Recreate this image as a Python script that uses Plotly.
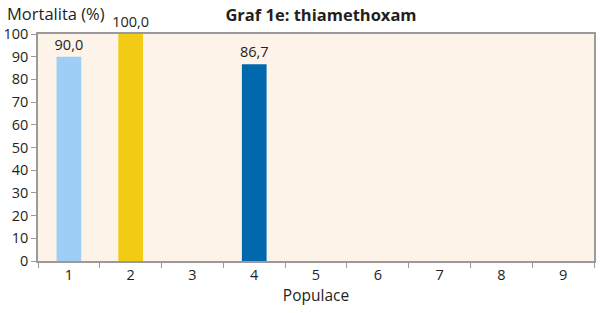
import plotly.graph_objects as go

categories = ["1", "2", "3", "4", "5", "6", "7", "8", "9"]
values = [90.0, 100.0, None, 86.7, None, None, None, None, None]
colors = ["#9ECEF5", "#F2CB14", "#9ECEF5", "#0068AD", "#9ECEF5", "#9ECEF5", "#9ECEF5", "#9ECEF5", "#9ECEF5"]
y_ticks = [0, 10, 20, 30, 40, 50, 60, 70, 80, 90, 100]

font_family = "Open Sans, Noto Sans, sans-serif"
fs = 14.5

fig = go.Figure()
fig.add_trace(go.Bar(
    x=categories,
    y=values,
    marker=dict(color=colors, line=dict(width=0)),
    width=0.4,
    texttemplate="%{y:.1f}",
    textposition="outside",
    constraintext="none",
    cliponaxis=False,
    textfont=dict(size=fs, color="#231F20", family=font_family),
))

axis_line = "#9A9A9A"
fig.update_layout(
    width=600, height=313,
    margin=dict(l=38, r=6, t=34, b=52, autoexpand=False),
    paper_bgcolor="white",
    plot_bgcolor="#FDF3E9",
    separators=",.",
    showlegend=False,
    font=dict(family=font_family, size=fs, color="#231F20"),
    title=dict(text="<b>Graf 1e: thiamethoxam</b>", x=0.535, xanchor="center",
               y=1 - 15 / 313, yanchor="middle", font=dict(size=16.5, family=font_family)),
    xaxis=dict(
        type="category",
        tickson="boundaries",
        ticks="outside", ticklen=5, tickcolor=axis_line,
        showline=True, linecolor=axis_line, linewidth=1.5, mirror=True,
        showgrid=False, automargin=False,
        title=dict(text="Populace", standoff=6, font=dict(size=15.5)),
        tickfont=dict(size=fs),
    ),
    yaxis=dict(
        range=[0, 100],
        tickvals=y_ticks,
        ticks="outside", ticklen=5, tickcolor=axis_line,
        showline=True, linecolor=axis_line, linewidth=1.5, mirror=True,
        showgrid=False, zeroline=False, automargin=False,
        tickfont=dict(size=fs),
    ),
    bargap=0.6,
)
fig.add_annotation(text="Mortalita (%)", xref="paper", yref="paper",
                   x=-33 / 556, y=1 + 20 / 227, xanchor="left", yanchor="middle",
                   showarrow=False, font=dict(size=16.5, family=font_family))

fig.write_html("out.html")
